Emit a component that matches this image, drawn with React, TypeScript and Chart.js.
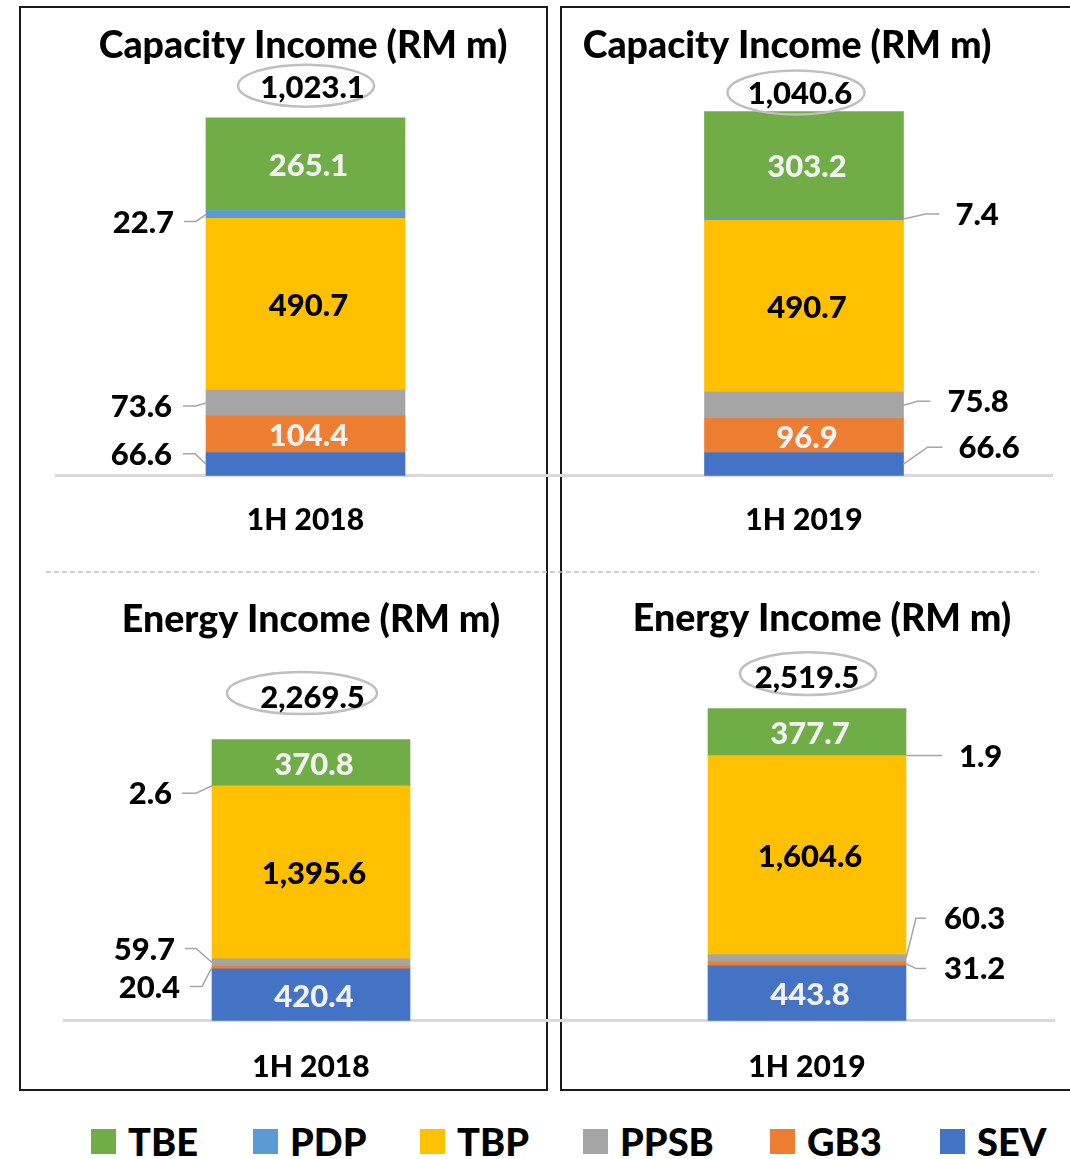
import React, { useEffect, useRef } from "react";
import { Chart, registerables } from "chart.js";

Chart.register(...registerables);

// ---------- data ----------
const SERIES = ["TBE", "PDP", "TBP", "PPSB", "GB3", "SEV"];
const SERIES_COLORS = ["#70AD47", "#5B9BD5", "#FFC000", "#A5A5A5", "#ED7D31", "#4472C4"];
const PERIODS = ["1H 2018", "1H 2019"];
const TITLES = ["Capacity Income (RM m)", "Energy Income (RM m)"];
const CAPACITY_1H2018 = [265.1, 22.7, 490.7, 73.6, 104.4, 66.6];
const CAPACITY_1H2019 = [303.2, 7.4, 490.7, 75.8, 96.9, 66.6];
const ENERGY_1H2018 = [370.8, 2.6, 1395.6, 59.7, 20.4, 420.4];
const ENERGY_1H2019 = [377.7, 1.9, 1604.6, 60.3, 31.2, 443.8];
const CAPACITY_TOTALS = [1023.1, 1040.6];
const ENERGY_TOTALS = [2269.5, 2519.5];

// ---------- styles ----------
const FONT = 'Lato, "Open Sans", sans-serif';
const WEIGHT = "900";
const TITLE_SIZE = 37.5;
const LABEL_SIZE = 31;
const TICK_SIZE = 30;
const LEGEND_SIZE = 38;
const LIGHT_TEXT = "#F2F2F2";
const LEADER_COLOR = "#A6A6A6";
const INSIDE_LIGHT = [true, false, false, false, true, true]; // per series label colour when inside

type Leader = { side: number; dy: number; elbow: number; end: number; text: number };
type PanelCfg = {
  title: string;
  period: string;
  values: number[];
  total: number;
  left: number;
  top: number;
  width: number;
  height: number;
  barThickness: number;
  pxPerUnit: number;
  tickPad: number;
  titleX: number;
  titleY: number;
  ellipse: { dx: number; dy: number; rx: number; ry: number };
  totalDx: number;
  totalDy: number;
  leaders: Record<number, Leader>;
};

const PANELS: PanelCfg[] = [
  {
    title: TITLES[0], period: PERIODS[0], values: CAPACITY_1H2018, total: CAPACITY_TOTALS[0],
    left: 55, top: 0, width: 501, height: 564, barThickness: 199, pxPerUnit: 0.35, tickPad: 26.1,
    titleX: 303, titleY: 58,
    ellipse: { dx: 0.5, dy: -32, rx: 68, ry: 21 }, totalDx: 7, totalDy: -31,
    leaders: {
      1: { side: -1, dy: 7, elbow: 10, end: 22, text: 32 },
      3: { side: -1, dy: 3, elbow: 10, end: 23, text: 34 },
      5: { side: -1, dy: -10.5, elbow: 11, end: 23, text: 34 },
    },
  },
  {
    title: TITLES[0], period: PERIODS[1], values: CAPACITY_1H2019, total: CAPACITY_TOTALS[1],
    left: 555, top: 0, width: 498, height: 564, barThickness: 199, pxPerUnit: 0.35, tickPad: 26.1,
    titleX: 787, titleY: 58,
    ellipse: { dx: -8, dy: -19, rx: 68.5, ry: 22 }, totalDx: -4, totalDy: -19,
    leaders: {
      1: { side: 1, dy: -5, elbow: 22, end: 36, text: 52 },
      3: { side: 1, dy: -4, elbow: 14, end: 27, text: 44 },
      5: { side: 1, dy: -17, elbow: 24, end: 39, text: 55 },
    },
  },
  {
    title: TITLES[1], period: PERIODS[0], values: ENERGY_1H2018, total: ENERGY_TOTALS[0],
    left: 63, top: 580, width: 496, height: 533, barThickness: 198, pxPerUnit: 0.1239, tickPad: 28.1,
    titleX: 311, titleY: 632,
    ellipse: { dx: -9, dy: -46.5, rx: 75, ry: 21 }, totalDx: 1.5, totalDy: -43,
    leaders: {
      1: { side: -1, dy: 7.5, elbow: 16, end: 30, text: 40 },
      3: { side: -1, dy: -14, elbow: 16, end: 27, text: 37 },
      4: { side: -1, dy: 19, elbow: 10, end: 22, text: 32 },
    },
  },
  {
    title: TITLES[1], period: PERIODS[1], values: ENERGY_1H2019, total: ENERGY_TOTALS[1],
    left: 559, top: 580, width: 496, height: 533, barThickness: 198, pxPerUnit: 0.1239, tickPad: 28.1,
    titleX: 822, titleY: 631,
    ellipse: { dx: 1, dy: -35, rx: 68, ry: 21.4 }, totalDx: 0, totalDy: -31.7,
    leaders: {
      1: { side: 1, dy: 0, elbow: 10, end: 36, text: 53 },
      3: { side: 1, dy: -40, elbow: 10, end: 20, text: 38 },
      4: { side: 1, dy: 4.5, elbow: 10, end: 20, text: 38 },
    },
  },
];

const LEGEND_X = [91, 253, 420, 583, 770, 940];

const fmt = (v: number) =>
  v.toLocaleString("en-US", { minimumFractionDigits: 1, maximumFractionDigits: 1 });

function makeLabelPlugin(cfg: PanelCfg) {
  return {
    id: "panelLabels",
    afterDatasetsDraw(chart: any) {
      const ctx: CanvasRenderingContext2D = chart.ctx;
      ctx.save();
      const cap = (s: number) => s * 0.358;
      // title
      ctx.font = `${WEIGHT} ${TITLE_SIZE}px ${FONT}`;
      ctx.fillStyle = "#000";
      ctx.textAlign = "center";
      ctx.textBaseline = "alphabetic";
      ctx.fillText(cfg.title, cfg.titleX - cfg.left, cfg.titleY - cfg.top);

      ctx.font = `${WEIGHT} ${LABEL_SIZE}px ${FONT}`;
      let topY = Infinity;
      let barX = 0;
      const n = chart.data.datasets.length;
      for (let d = 0; d < n; d++) {
        const seriesIdx = n - 1 - d;
        const bar: any = chart.getDatasetMeta(d).data[0];
        if (!bar) continue;
        const { x, y, base, width } = bar.getProps(["x", "y", "base", "width"], true);
        barX = x;
        topY = Math.min(topY, y);
        const yc = (y + base) / 2;
        const text = fmt(cfg.values[seriesIdx]);
        const leader = cfg.leaders[seriesIdx];
        if (leader) {
          const edge = x + leader.side * width / 2;
          const ly = yc + leader.dy;
          ctx.strokeStyle = LEADER_COLOR;
          ctx.lineWidth = 1.5;
          ctx.beginPath();
          ctx.moveTo(edge, yc);
          ctx.lineTo(edge + leader.side * leader.elbow, ly);
          ctx.lineTo(edge + leader.side * leader.end, ly);
          ctx.stroke();
          ctx.fillStyle = "#000";
          ctx.textAlign = leader.side < 0 ? "right" : "left";
          ctx.fillText(text, edge + leader.side * leader.text, ly + cap(LABEL_SIZE));
        } else {
          ctx.fillStyle = INSIDE_LIGHT[seriesIdx] ? LIGHT_TEXT : "#000";
          ctx.textAlign = "center";
          ctx.fillText(text, x + 3, yc + 1 + cap(LABEL_SIZE));
        }
      }
      // total with ellipse
      const e = cfg.ellipse;
      ctx.strokeStyle = "#BFBFBF";
      ctx.lineWidth = 2.5;
      ctx.beginPath();
      ctx.ellipse(barX + e.dx, topY + e.dy, e.rx, e.ry, 0, 0, Math.PI * 2);
      ctx.stroke();
      ctx.fillStyle = "#000";
      ctx.textAlign = "center";
      ctx.fillText(fmt(cfg.total), barX + cfg.totalDx, topY + cfg.totalDy + cap(LABEL_SIZE));
      ctx.restore();
    },
  };
}

function Panel({ cfg }: { cfg: PanelCfg }) {
  const ref = useRef<HTMLCanvasElement>(null);
  useEffect(() => {
    const canvas = ref.current;
    if (!canvas) return;
    const axisH = 2 * cfg.tickPad + TICK_SIZE * 1.2;
    const areaH = cfg.height - axisH;
    const order = SERIES.map((_, i) => i).reverse(); // bottom of stack first
    const chart = new Chart(canvas, {
      type: "bar",
      data: {
        labels: [cfg.period],
        datasets: order.map((i) => ({
          label: SERIES[i],
          data: [cfg.values[i]],
          backgroundColor: SERIES_COLORS[i],
          borderWidth: 0,
          barThickness: cfg.barThickness,
        })),
      },
      options: {
        responsive: false,
        animation: false,
        events: [],
        layout: { padding: 0 },
        plugins: {
          legend: { display: false },
          tooltip: { enabled: false },
          title: { display: false },
        },
        scales: {
          x: {
            stacked: true,
            grid: { display: false, drawTicks: false },
            border: { display: true, color: "#D9D9D9", width: 3 },
            ticks: {
              color: "#000",
              padding: cfg.tickPad,
              font: { family: FONT, weight: WEIGHT, size: TICK_SIZE },
            },
          },
          y: {
            stacked: true,
            display: false,
            min: 0,
            max: areaH / cfg.pxPerUnit,
          },
        },
      },
      plugins: [makeLabelPlugin(cfg)],
    } as any);
    return () => chart.destroy();
  }, [cfg]);
  return (
    <canvas
      ref={ref}
      width={cfg.width}
      height={cfg.height}
      style={{ position: "absolute", left: cfg.left, top: cfg.top, width: cfg.width, height: cfg.height }}
    />
  );
}

export default function App() {
  return (
    <div
      style={{
        position: "absolute",
        left: 0,
        top: 0,
        width: 1070,
        height: 1159,
        overflow: "hidden",
        background: "#fff",
        fontFamily: FONT,
      }}
    >
      <div
        style={{
          position: "absolute", left: 19, top: 6, width: 529, height: 1085,
          border: "2px solid #1a1a1a", boxSizing: "border-box",
        }}
      />
      <div
        style={{
          position: "absolute", left: 560, top: 6, width: 540, height: 1085,
          border: "2px solid #1a1a1a", boxSizing: "border-box",
        }}
      />
      <svg width={1070} height={1159} style={{ position: "absolute", left: 0, top: 0 }}>
        <line x1={46} y1={572} x2={1039} y2={572} stroke="#BFBFBF" strokeWidth={1.5} strokeDasharray="5 3" />
      </svg>
      {PANELS.map((p, i) => (
        <Panel key={i} cfg={p} />
      ))}
      {SERIES.map((s, i) => (
        <div key={s} style={{ position: "absolute", left: LEGEND_X[i], top: 1128, height: 26, display: "flex", alignItems: "center" }}>
          <div style={{ width: 25, height: 25, background: SERIES_COLORS[i], marginRight: 12 }} />
          <span style={{ fontWeight: 900, fontSize: LEGEND_SIZE, lineHeight: "26px", color: "#000" }}>{s}</span>
        </div>
      ))}
    </div>
  );
}
